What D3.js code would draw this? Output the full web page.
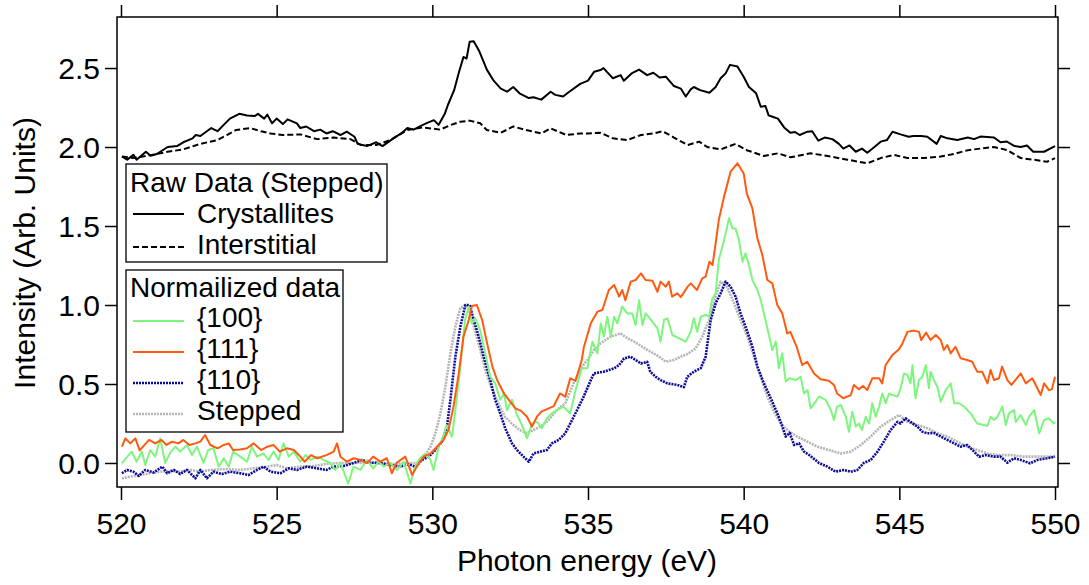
<!DOCTYPE html>
<html><head><meta charset="utf-8">
<script src="https://cdn.jsdelivr.net/npm/d3@7"></script>
<style>body{margin:0;background:#fff} text{font-family:"Liberation Sans",Arial,Helvetica,sans-serif;fill:#000}</style>
</head><body><svg id="c" width="1089" height="585"></svg>
<script>
// ---- data (energy eV, intensity) ----
const xTicks = [520, 525, 530, 535, 540, 545, 550];
const yTicks = [0.0, 0.5, 1.0, 1.5, 2.0, 2.5];

const crystallites = [[520.03,1.94],[520.2,1.92],[520.4,1.95],[520.5,1.92],[520.8,1.97],[520.95,1.945],[521.15,1.956],[521.5,2.0],[521.8,2.006],[522.0,2.03],[522.3,2.055],[522.4,2.076],[522.55,2.07],[522.9,2.12],[523.1,2.10],[523.3,2.14],[523.5,2.18],[523.8,2.21],[524.05,2.20],[524.3,2.196],[524.4,2.21],[524.6,2.18],[524.7,2.205],[524.85,2.15],[525.0,2.18],[525.2,2.145],[525.35,2.175],[525.65,2.15],[525.76,2.12],[525.95,2.13],[526.2,2.10],[526.4,2.11],[526.6,2.086],[526.8,2.10],[527.05,2.076],[527.25,2.097],[527.5,2.065],[527.6,2.02],[527.9,2.006],[528.2,2.03],[528.4,2.006],[528.75,2.055],[529.0,2.086],[529.2,2.12],[529.4,2.11],[529.6,2.13],[529.8,2.15],[530.05,2.17],[530.2,2.14],[530.4,2.21],[530.5,2.266],[530.7,2.36],[530.85,2.47],[531.0,2.57],[531.1,2.56],[531.2,2.667],[531.33,2.67],[531.5,2.61],[531.75,2.49],[531.97,2.42],[532.2,2.37],[532.4,2.35],[532.6,2.38],[532.8,2.34],[533.1,2.31],[533.25,2.315],[533.5,2.30],[533.8,2.35],[533.95,2.33],[534.2,2.32],[534.4,2.35],[534.75,2.40],[535.0,2.42],[535.2,2.477],[535.4,2.487],[535.5,2.50],[535.6,2.477],[535.8,2.435],[536.05,2.455],[536.15,2.42],[536.4,2.466],[536.64,2.49],[536.9,2.455],[537.1,2.47],[537.3,2.44],[537.5,2.445],[537.76,2.386],[537.98,2.37],[538.14,2.32],[538.3,2.365],[538.4,2.38],[538.6,2.36],[538.9,2.344],[539.1,2.38],[539.26,2.435],[539.42,2.466],[539.56,2.52],[539.8,2.51],[540.0,2.445],[540.17,2.38],[540.4,2.34],[540.55,2.255],[540.7,2.26],[540.8,2.20],[540.95,2.19],[541.1,2.18],[541.3,2.124],[541.5,2.09],[541.65,2.095],[541.8,2.076],[542.05,2.097],[542.2,2.10],[542.4,2.04],[542.6,2.06],[542.85,2.05],[543.06,2.02],[543.2,1.99],[543.4,2.01],[543.6,1.97],[543.8,1.99],[543.97,1.964],[544.2,2.0],[544.4,2.034],[544.6,2.044],[544.78,2.097],[545.04,2.08],[545.3,2.065],[545.45,2.07],[545.7,2.07],[545.9,2.065],[546.2,2.02],[546.33,2.07],[546.55,2.055],[546.86,2.044],[547.2,2.06],[547.4,2.05],[547.6,2.066],[548.04,2.06],[548.25,2.03],[548.45,2.035],[548.7,2.006],[548.9,2.0],[549.1,2.01],[549.3,1.97],[549.65,1.97],[550.0,2.006]];

const interstitial = [[520.03,1.94],[520.4,1.93],[521.15,1.956],[521.5,1.97],[522.0,1.985],[522.55,2.02],[523.1,2.044],[523.4,2.076],[523.7,2.108],[524.15,2.12],[524.5,2.10],[524.8,2.086],[525.2,2.076],[525.76,2.08],[526.3,2.05],[526.83,2.06],[527.37,2.05],[527.7,2.013],[528.2,2.013],[528.65,2.044],[529.2,2.108],[529.7,2.124],[530.25,2.11],[530.6,2.14],[530.9,2.16],[531.2,2.167],[531.54,2.15],[531.75,2.108],[532.2,2.09],[532.6,2.13],[533.0,2.108],[533.5,2.086],[533.8,2.118],[534.3,2.076],[534.75,2.086],[535.0,2.086],[535.4,2.09],[535.8,2.055],[536.26,2.044],[536.7,2.076],[537.1,2.086],[537.4,2.10],[537.76,2.06],[538.2,2.013],[538.57,2.034],[538.83,2.0],[539.26,1.985],[539.74,2.02],[540.1,1.98],[540.65,1.943],[541.1,1.96],[541.5,1.935],[542.15,1.96],[542.7,1.943],[543.33,1.92],[543.97,1.897],[544.4,1.93],[544.83,1.95],[545.26,1.93],[545.8,1.93],[546.33,1.94],[546.75,1.956],[547.2,1.98],[547.6,1.99],[548.04,2.0],[548.47,1.98],[548.9,1.93],[549.3,1.92],[549.75,1.907],[550.0,1.93]];

const s111 = [[520.03,0.103],[520.14,0.156],[520.3,0.124],[520.46,0.156],[520.6,0.08],[520.9,0.146],[521.1,0.124],[521.3,0.146],[521.46,0.114],[521.64,0.135],[521.85,0.124],[522.0,0.146],[522.2,0.114],[522.39,0.124],[522.55,0.135],[522.7,0.177],[522.87,0.114],[523.1,0.093],[523.3,0.114],[523.46,0.124],[523.6,0.082],[523.83,0.086],[524.05,0.093],[524.26,0.124],[524.5,0.082],[524.7,0.103],[524.9,0.114],[525.1,0.072],[525.33,0.093],[525.55,0.082],[525.76,0.04],[525.9,0.008],[526.1,0.05],[526.3,0.03],[526.6,0.05],[526.83,0.072],[526.94,0.124],[527.05,0.04],[527.26,0.008],[527.47,0.03],[527.69,0.019],[527.9,0.0],[528.1,0.04],[528.33,0.008],[528.54,0.03],[528.7,-0.065],[528.85,0.0],[529.13,0.04],[529.35,-0.076],[529.5,-0.023],[529.72,0.04],[529.94,0.06],[530.15,0.103],[530.36,0.146],[530.52,0.21],[530.68,0.357],[530.85,0.567],[531.0,0.80],[531.17,0.905],[531.27,0.994],[531.43,1.0],[531.6,0.905],[531.76,0.757],[531.93,0.61],[532.08,0.525],[532.3,0.44],[532.5,0.388],[532.67,0.346],[532.85,0.33],[533.04,0.293],[533.2,0.23],[533.36,0.293],[533.5,0.325],[533.74,0.346],[533.9,0.36],[534.1,0.44],[534.27,0.42],[534.43,0.536],[534.6,0.52],[534.8,0.652],[534.87,0.736],[535.09,0.884],[535.3,0.958],[535.46,0.968],[535.67,1.095],[535.84,1.127],[536.0,1.053],[536.1,1.095],[536.2,1.03],[536.37,1.148],[536.53,1.158],[536.7,1.20],[536.85,1.158],[537.07,1.154],[537.23,1.084],[537.33,1.148],[537.5,1.116],[537.6,1.148],[537.7,1.053],[537.87,1.074],[537.98,1.05],[538.2,1.116],[538.3,1.137],[538.5,1.095],[538.67,1.169],[538.78,1.18],[538.9,1.274],[539.0,1.253],[539.1,1.39],[539.2,1.538],[539.37,1.686],[539.58,1.844],[539.8,1.897],[540.0,1.833],[540.1,1.707],[540.28,1.612],[540.44,1.422],[540.6,1.316],[540.76,1.158],[540.92,1.137],[541.08,1.0],[541.24,0.947],[541.4,0.82],[541.5,0.83],[541.7,0.736],[541.88,0.62],[542.04,0.641],[542.26,0.567],[542.47,0.53],[542.74,0.52],[542.9,0.494],[543.0,0.44],[543.2,0.41],[543.44,0.43],[543.54,0.494],[543.7,0.466],[543.83,0.488],[543.97,0.462],[544.13,0.536],[544.35,0.536],[544.45,0.504],[544.56,0.62],[544.78,0.684],[544.99,0.72],[545.1,0.757],[545.26,0.83],[545.47,0.838],[545.63,0.83],[545.7,0.778],[545.86,0.825],[546.0,0.778],[546.17,0.81],[546.33,0.778],[546.43,0.715],[546.54,0.747],[546.65,0.694],[546.8,0.736],[546.97,0.662],[547.18,0.652],[547.34,0.641],[547.5,0.578],[547.66,0.578],[547.83,0.504],[547.93,0.589],[548.04,0.525],[548.2,0.536],[548.3,0.61],[548.47,0.525],[548.6,0.494],[548.9,0.567],[549.06,0.504],[549.27,0.536],[549.54,0.43],[549.65,0.504],[549.8,0.462],[549.9,0.466],[550.0,0.546]];

const s100 = [[520.03,-0.002],[520.2,0.04],[520.35,0.072],[520.5,0.008],[520.67,0.072],[520.78,-0.013],[520.94,0.082],[521.1,0.04],[521.26,0.156],[521.42,0.0],[521.6,0.072],[521.75,0.103],[521.9,0.072],[522.12,0.114],[522.28,0.05],[522.44,0.103],[522.65,0.0],[522.8,0.082],[522.97,0.093],[523.14,-0.023],[523.3,0.03],[523.46,-0.023],[523.6,0.072],[523.83,0.04],[524.05,0.008],[524.2,0.103],[524.37,0.04],[524.58,0.06],[524.74,0.019],[524.9,0.072],[525.06,0.019],[525.22,0.124],[525.39,0.04],[525.55,0.072],[525.76,0.008],[525.93,0.05],[526.1,0.019],[526.3,0.04],[526.5,0.019],[526.72,0.0],[526.88,-0.044],[527.05,0.0],[527.3,-0.13],[527.47,-0.023],[527.69,-0.044],[527.9,0.019],[528.1,-0.034],[528.28,0.008],[528.44,-0.023],[528.65,0.0],[528.87,-0.044],[529.08,0.008],[529.3,-0.13],[529.45,-0.023],[529.6,0.03],[529.78,0.06],[529.94,0.019],[530.04,-0.044],[530.2,0.103],[530.36,0.167],[530.46,0.24],[530.63,0.167],[530.74,0.335],[530.9,0.61],[531.05,0.905],[531.17,0.99],[531.27,0.884],[531.38,0.916],[531.54,0.84],[531.7,0.694],[531.86,0.546],[532.02,0.504],[532.18,0.40],[532.3,0.44],[532.4,0.335],[532.56,0.40],[532.72,0.304],[532.88,0.24],[533.04,0.156],[533.2,0.25],[533.36,0.26],[533.52,0.22],[533.68,0.283],[533.84,0.314],[534.0,0.335],[534.2,0.357],[534.43,0.314],[534.6,0.462],[534.8,0.60],[534.98,0.60],[535.14,0.768],[535.3,0.694],[535.41,0.884],[535.51,0.80],[535.62,0.926],[535.73,0.80],[535.84,0.926],[535.94,0.884],[536.1,0.99],[536.26,0.947],[536.42,0.947],[536.53,0.873],[536.64,1.03],[536.75,0.873],[536.85,0.947],[537.07,0.894],[537.23,0.852],[537.33,0.768],[537.44,0.905],[537.55,0.916],[537.71,0.81],[538.14,0.768],[538.3,0.83],[538.4,0.916],[538.51,0.83],[538.62,0.926],[538.78,0.937],[538.89,0.926],[538.99,1.04],[539.1,1.074],[539.2,1.285],[539.37,1.41],[539.53,1.55],[539.64,1.485],[539.74,1.485],[539.85,1.41],[539.96,1.274],[540.06,1.327],[540.17,1.253],[540.28,1.158],[540.44,1.095],[540.55,1.03],[540.7,0.905],[540.92,0.715],[541.03,0.768],[541.13,0.60],[541.24,0.694],[541.35,0.515],[541.46,0.536],[541.67,0.525],[541.83,0.546],[541.94,0.44],[542.05,0.462],[542.15,0.346],[542.31,0.388],[542.42,0.42],[542.63,0.40],[542.8,0.335],[542.9,0.272],[543.0,0.357],[543.12,0.367],[543.28,0.293],[543.38,0.198],[543.49,0.325],[543.6,0.23],[543.7,0.25],[543.8,0.209],[543.92,0.293],[544.03,0.25],[544.13,0.378],[544.24,0.293],[544.35,0.357],[544.45,0.44],[544.56,0.378],[544.67,0.44],[544.78,0.43],[544.94,0.42],[545.04,0.473],[545.15,0.567],[545.26,0.557],[545.36,0.504],[545.42,0.62],[545.52,0.41],[545.63,0.525],[545.74,0.546],[545.85,0.62],[545.95,0.473],[546.0,0.578],[546.11,0.525],[546.22,0.483],[546.33,0.388],[546.49,0.462],[546.65,0.504],[546.76,0.378],[546.92,0.378],[547.08,0.357],[547.29,0.314],[547.5,0.25],[547.72,0.24],[547.83,0.234],[547.93,0.293],[548.04,0.272],[548.15,0.293],[548.31,0.357],[548.42,0.24],[548.52,0.314],[548.68,0.335],[548.74,0.26],[548.9,0.304],[549.06,0.24],[549.17,0.293],[549.33,0.335],[549.49,0.188],[549.65,0.272],[549.8,0.283],[549.96,0.25],[550.0,0.26]];

const s110 = [[520.03,-0.065],[520.2,-0.044],[520.4,-0.055],[520.57,-0.082],[520.78,-0.044],[521.05,-0.06],[521.33,-0.023],[521.48,-0.065],[521.7,-0.044],[521.9,-0.07],[522.12,-0.044],[522.39,-0.097],[522.55,-0.044],[522.76,-0.097],[522.97,-0.055],[523.24,-0.07],[523.5,-0.055],[523.83,-0.065],[524.1,-0.076],[524.37,-0.044],[524.58,-0.023],[524.8,-0.055],[525.12,-0.065],[525.39,-0.034],[525.65,-0.044],[525.97,-0.023],[526.3,-0.034],[526.6,-0.044],[526.83,-0.023],[527.15,-0.019],[527.47,0.0],[527.74,0.019],[528.0,0.002],[528.33,0.0],[528.65,-0.013],[528.97,-0.023],[529.24,-0.008],[529.45,-0.023],[529.67,0.019],[529.88,0.04],[530.1,0.082],[530.31,0.135],[530.47,0.23],[530.58,0.40],[530.74,0.673],[530.9,0.863],[531.06,1.0],[531.2,1.0],[531.33,0.905],[531.49,0.80],[531.65,0.673],[531.86,0.525],[532.02,0.40],[532.18,0.314],[532.34,0.22],[532.56,0.124],[532.72,0.082],[532.93,0.04],[533.1,0.008],[533.25,0.06],[533.47,0.072],[533.68,0.082],[533.84,0.124],[534.06,0.146],[534.27,0.188],[534.43,0.25],[534.65,0.335],[534.86,0.42],[535.09,0.525],[535.19,0.567],[535.51,0.578],[535.84,0.599],[536.0,0.62],[536.16,0.662],[536.37,0.673],[536.53,0.652],[536.7,0.63],[536.9,0.641],[537.0,0.578],[537.17,0.546],[537.33,0.525],[537.55,0.504],[537.87,0.494],[538.08,0.48],[538.19,0.546],[538.4,0.578],[538.62,0.60],[538.78,0.673],[538.94,0.905],[539.1,1.01],[539.26,1.074],[539.42,1.148],[539.58,1.116],[539.74,1.053],[539.9,0.947],[540.12,0.83],[540.28,0.736],[540.44,0.61],[540.65,0.504],[540.87,0.41],[541.08,0.314],[541.19,0.26],[541.35,0.167],[541.48,0.19],[541.62,0.114],[541.78,0.124],[541.94,0.072],[542.15,0.044],[542.42,0.0],[542.69,-0.023],[542.95,-0.055],[543.22,-0.044],[543.44,-0.055],[543.65,-0.044],[543.86,0.0],[544.08,0.019],[544.3,0.072],[544.5,0.135],[544.72,0.209],[544.94,0.26],[545.04,0.25],[545.2,0.283],[545.36,0.26],[545.58,0.23],[545.74,0.198],[545.9,0.188],[546.11,0.19],[546.33,0.167],[546.54,0.146],[546.76,0.124],[546.97,0.103],[547.18,0.114],[547.4,0.072],[547.56,0.04],[547.77,0.05],[548.04,0.04],[548.25,0.04],[548.47,0.002],[548.68,0.03],[548.9,0.019],[549.2,-0.002],[549.43,0.019],[549.75,0.03],[550.0,0.04]];

const stepped = [[520.03,-0.097],[520.3,-0.086],[520.6,-0.076],[520.94,-0.065],[521.26,-0.055],[521.58,-0.05],[521.9,-0.055],[522.23,-0.044],[522.55,-0.055],[522.87,-0.044],[523.2,-0.04],[523.5,-0.04],[523.83,-0.044],[524.26,-0.034],[524.7,-0.023],[525.0,-0.013],[525.33,-0.034],[525.76,-0.023],[526.2,-0.019],[526.6,-0.006],[527.05,0.0],[527.47,0.0],[527.9,0.002],[528.33,0.0],[528.76,-0.006],[529.19,0.0],[529.5,0.0],[529.72,0.03],[529.94,0.103],[530.1,0.188],[530.26,0.314],[530.42,0.483],[530.58,0.694],[530.74,0.863],[530.9,0.98],[531.06,1.0],[531.22,0.947],[531.38,0.83],[531.54,0.715],[531.7,0.59],[531.9,0.473],[532.12,0.378],[532.33,0.293],[532.55,0.25],[532.8,0.209],[533.04,0.188],[533.25,0.209],[533.47,0.23],[533.74,0.272],[534.0,0.335],[534.27,0.378],[534.54,0.504],[534.8,0.61],[534.98,0.652],[535.19,0.715],[535.4,0.757],[535.73,0.80],[536.05,0.82],[536.26,0.79],[536.48,0.768],[536.74,0.736],[537.0,0.705],[537.28,0.673],[537.5,0.641],[537.76,0.652],[537.98,0.673],[538.2,0.69],[538.46,0.726],[538.67,0.80],[538.89,0.905],[539.1,1.053],[539.26,1.148],[539.47,1.116],[539.69,1.01],[539.9,0.905],[540.12,0.80],[540.33,0.673],[540.55,0.546],[540.76,0.42],[540.97,0.325],[541.19,0.25],[541.46,0.198],[541.72,0.167],[542.05,0.135],[542.37,0.103],[542.74,0.082],[543.12,0.06],[543.44,0.072],[543.76,0.114],[544.08,0.167],[544.4,0.23],[544.72,0.272],[544.99,0.304],[545.26,0.26],[545.58,0.24],[545.9,0.22],[546.22,0.188],[546.54,0.167],[546.86,0.135],[547.18,0.103],[547.5,0.082],[547.83,0.06],[548.15,0.05],[548.58,0.05],[549.0,0.04],[549.43,0.04],[549.75,0.04],[550.0,0.04]];

const rawLegendTitle = "Raw Data (Stepped)";
const rawNames = ["Crystallites", "Interstitial"];
const normLegendTitle = "Normailized data";
const normNames = ["{100}", "{111}", "{110}", "Stepped"];

// ---- styles ----
const styles = {
  "Crystallites": {color:"#000", w:2, dash:null},
  "Interstitial": {color:"#000", w:2, dash:"6,3"},
  "{100}": {color:"#7ef57e", w:2, dash:null},
  "{111}": {color:"#ff5a0f", w:2, dash:null},
  "{110}": {color:"#0a0a9a", w:2.6, dash:"2,1"},
  "Stepped": {color:"#b4b4b4", w:2.6, dash:"2,1"}
};

const svg = d3.select("#c");
const L = 117, R = 1058, T = 17, B = 487;
const x = d3.scaleLinear().domain([519.872, 550.096]).range([L, R]);
const y = d3.scaleLinear().domain([-0.152, 2.823]).range([B, T]);

const line = d3.line().x(d => x(d[0])).y(d => y(d[1]));
const series = [
  ["Stepped", stepped], ["{110}", s110], ["{100}", s100], ["{111}", s111],
  ["Interstitial", interstitial], ["Crystallites", crystallites]
];
svg.append("g").selectAll("path").data(series).join("path")
  .attr("d", d => line(d[1]))
  .attr("fill", "none")
  .attr("stroke", d => styles[d[0]].color)
  .attr("stroke-width", d => styles[d[0]].w)
  .attr("stroke-dasharray", d => styles[d[0]].dash)
  .attr("stroke-linejoin", "round");

// axes
function styleAxis(g){
  g.select(".domain").remove();
  g.selectAll(".tick line").attr("stroke", "#000").attr("stroke-width", 1.5);
  g.selectAll(".tick text").style("font-size", "30px").attr("fill", "#000")
    .style("font-family", '"Liberation Sans",Arial,sans-serif');
}
svg.append("g").attr("transform", `translate(0,${B})`)
  .call(d3.axisBottom(x).tickValues(xTicks).tickSize(13).tickFormat(d3.format("d")))
  .call(styleAxis)
  .call(g => g.selectAll(".tick text").attr("dy", null).attr("y", 47));
svg.append("g").attr("transform", `translate(0,${T})`)
  .call(d3.axisTop(x).tickValues(xTicks).tickSize(12).tickFormat(""))
  .call(styleAxis);
svg.append("g").attr("transform", `translate(${L},0)`)
  .call(d3.axisLeft(y).tickValues(yTicks).tickSize(12).tickPadding(5).tickFormat(d3.format(".1f")))
  .call(styleAxis)
  .call(g => g.selectAll(".tick text").attr("dy", "0.35em"));
svg.append("g").attr("transform", `translate(${R},0)`)
  .call(d3.axisRight(y).tickValues(yTicks).tickSize(12).tickFormat(""))
  .call(styleAxis);

svg.append("rect").attr("x", L).attr("y", T).attr("width", R - L).attr("height", B - T)
  .attr("fill", "none").attr("stroke", "#000").attr("stroke-width", 1.5);

svg.append("text").attr("x", 587).attr("y", 571).attr("text-anchor", "middle")
  .style("font-size", "30px").text("Photon energy (eV)");
svg.append("text").attr("transform", "translate(35,253) rotate(-90)").attr("text-anchor", "middle")
  .style("font-size", "30px").text("Intensity (Arb. Units)");

// legends
function legend(box, title, names, titleY, lineYs, textOff){
  const g = svg.append("g");
  g.append("rect").attr("x", box[0]).attr("y", box[1]).attr("width", box[2]).attr("height", box[3])
    .attr("fill", "#fff").attr("stroke", "#000").attr("stroke-width", 1.3);
  g.append("text").attr("x", 130).attr("y", titleY).style("font-size", "28px").text(title);
  names.forEach((n, i) => {
    const s = styles[n];
    g.append("line").attr("x1", 133).attr("x2", 184).attr("y1", lineYs[i]).attr("y2", lineYs[i])
      .attr("stroke", s.color).attr("stroke-width", s.w).attr("stroke-dasharray", s.dash);
    g.append("text").attr("x", 197).attr("y", lineYs[i] + textOff[i]).style("font-size", "28px").text(n);
  });
}
legend([126, 164, 261, 98], rawLegendTitle, rawNames, 192, [214, 247], [8.5, 6.5]);
legend([126, 270, 217, 162], normLegendTitle, normNames, 297, [321, 352, 383, 414], [6, 6, 6, 6]);
</script></body></html>
